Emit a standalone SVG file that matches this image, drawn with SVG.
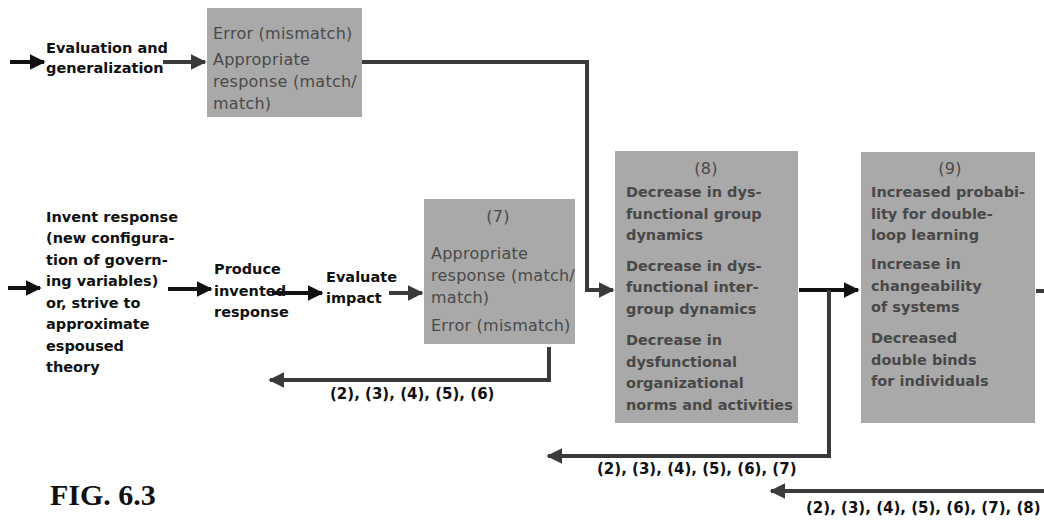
<svg xmlns="http://www.w3.org/2000/svg" width="1044" height="520" viewBox="0 0 1044 520">
<defs>
<marker id="ahb" viewBox="0 0 10 10" refX="9" refY="5" markerWidth="4" markerHeight="4" orient="auto" markerUnits="strokeWidth">
<path d="M0,0 L10,5 L0,10 z" fill="#111"/>
</marker>
<marker id="ahg" viewBox="0 0 10 10" refX="9" refY="5" markerWidth="4" markerHeight="4" orient="auto" markerUnits="strokeWidth">
<path d="M0,0 L10,5 L0,10 z" fill="#3a3a3a"/>
</marker>
</defs>
<style>
.box{fill:#a9a9a9;}
.bt{font-family:"DejaVu Sans","Liberation Sans",sans-serif;font-size:16px;letter-spacing:0.25px;fill:#4a4a4a;}
.bb{font-family:"DejaVu Sans","Liberation Sans",sans-serif;font-size:14.5px;font-weight:bold;fill:#484848;}
.lt{font-family:"DejaVu Sans","Liberation Sans",sans-serif;font-size:14.5px;font-weight:bold;fill:#111;}
.lab{font-family:"DejaVu Sans","Liberation Sans",sans-serif;font-size:15px;font-weight:bold;fill:#111;}
.fig{font-family:"Liberation Serif",serif;font-size:30px;font-weight:bold;fill:#111;}
.cb{fill:none;stroke:#111;stroke-width:4;}
.cg{fill:none;stroke:#3a3a3a;stroke-width:4;}
</style>
<rect width="1044" height="520" fill="#ffffff"/>

<g id="connectors">
<path class="cb" d="M10,62 L44,62" marker-end="url(#ahb)"/>
<path class="cg" d="M163,62 L205,62" marker-end="url(#ahg)"/>
<path class="cg" d="M362,62 L587,62 L587,290 L613,290" marker-end="url(#ahg)"/>
<path class="cb" d="M8,288 L40,288" marker-end="url(#ahb)"/>
<path class="cb" d="M168,289 L211,289" marker-end="url(#ahb)"/>
<path class="cb" d="M272,293 L322,293" marker-end="url(#ahb)"/>
<path class="cg" d="M389,293 L422,293" marker-end="url(#ahg)"/>
<path class="cg" d="M549,347 L549,380 L270,380" marker-end="url(#ahg)"/>
<path class="cb" d="M799,290 L858,290" marker-end="url(#ahb)"/>
<path class="cg" d="M829,290 L829,456 L548,456" marker-end="url(#ahg)"/>
<path class="cg" d="M1036,291 L1044,291"/>
<path class="cg" d="M1044,491 L771,491" marker-end="url(#ahg)"/>
</g>

<g id="n-eval-gen">
<text class="lt" x="46" y="53">Evaluation and</text>
<text class="lt" x="46" y="73">generalization</text>
</g>

<g id="n-top-box">
<rect class="box" x="207" y="8" width="155" height="109"/>
<text class="bt" x="213" y="39">Error (mismatch)</text>
<text class="bt" x="213" y="65">Appropriate</text>
<text class="bt" x="213" y="87">response (match/</text>
<text class="bt" x="213" y="109">match)</text>
</g>

<g id="n-invent">
<text class="lt" x="46" y="222">Invent response</text>
<text class="lt" x="46" y="243">(new configura-</text>
<text class="lt" x="46" y="265">tion of govern-</text>
<text class="lt" x="46" y="286">ing variables)</text>
<text class="lt" x="46" y="308">or, strive to</text>
<text class="lt" x="46" y="329">approximate</text>
<text class="lt" x="46" y="351">espoused</text>
<text class="lt" x="46" y="372">theory</text>
</g>

<g id="n-produce">
<text class="lt" x="214" y="274">Produce</text>
<text class="lt" x="214" y="296">invented</text>
<text class="lt" x="214" y="317">response</text>
</g>

<g id="n-evaluate">
<text class="lt" x="326" y="282">Evaluate</text>
<text class="lt" x="326" y="303">impact</text>
</g>

<g id="n7">
<rect class="box" x="424" y="199" width="151" height="145"/>
<text class="bt" x="498" y="222" text-anchor="middle">(7)</text>
<text class="bt" x="431" y="259">Appropriate</text>
<text class="bt" x="431" y="281">response (match/</text>
<text class="bt" x="431" y="303">match)</text>
<text class="bt" x="431" y="331">Error (mismatch)</text>
</g>

<g id="n8">
<rect class="box" x="615" y="151" width="183" height="272"/>
<text class="bt" x="706" y="174" text-anchor="middle">(8)</text>
<text class="bb" x="626" y="197">Decrease in dys-</text>
<text class="bb" x="626" y="219">functional group</text>
<text class="bb" x="626" y="240">dynamics</text>
<text class="bb" x="626" y="271">Decrease in dys-</text>
<text class="bb" x="626" y="292">functional inter-</text>
<text class="bb" x="626" y="314">group dynamics</text>
<text class="bb" x="626" y="345">Decrease in</text>
<text class="bb" x="626" y="367">dysfunctional</text>
<text class="bb" x="626" y="388">organizational</text>
<text class="bb" x="626" y="410">norms and activities</text>
</g>

<g id="n9">
<rect class="box" x="861" y="152" width="174" height="271"/>
<text class="bt" x="950" y="174" text-anchor="middle">(9)</text>
<text class="bb" x="871" y="197">Increased probabi-</text>
<text class="bb" x="871" y="219">lity for double-</text>
<text class="bb" x="871" y="240">loop learning</text>
<text class="bb" x="871" y="269">Increase in</text>
<text class="bb" x="871" y="291">changeability</text>
<text class="bb" x="871" y="312">of systems</text>
<text class="bb" x="871" y="343">Decreased</text>
<text class="bb" x="871" y="365">double binds</text>
<text class="bb" x="871" y="386">for individuals</text>
</g>

<g id="labels">
<text class="lab" x="330" y="399">(2), (3), (4), (5), (6)</text>
<text class="lab" x="597" y="474">(2), (3), (4), (5), (6), (7)</text>
<text class="lab" x="806" y="513">(2), (3), (4), (5), (6), (7), (8)</text>
<text class="fig" x="50" y="505">FIG. 6.3</text>
</g>
</svg>
